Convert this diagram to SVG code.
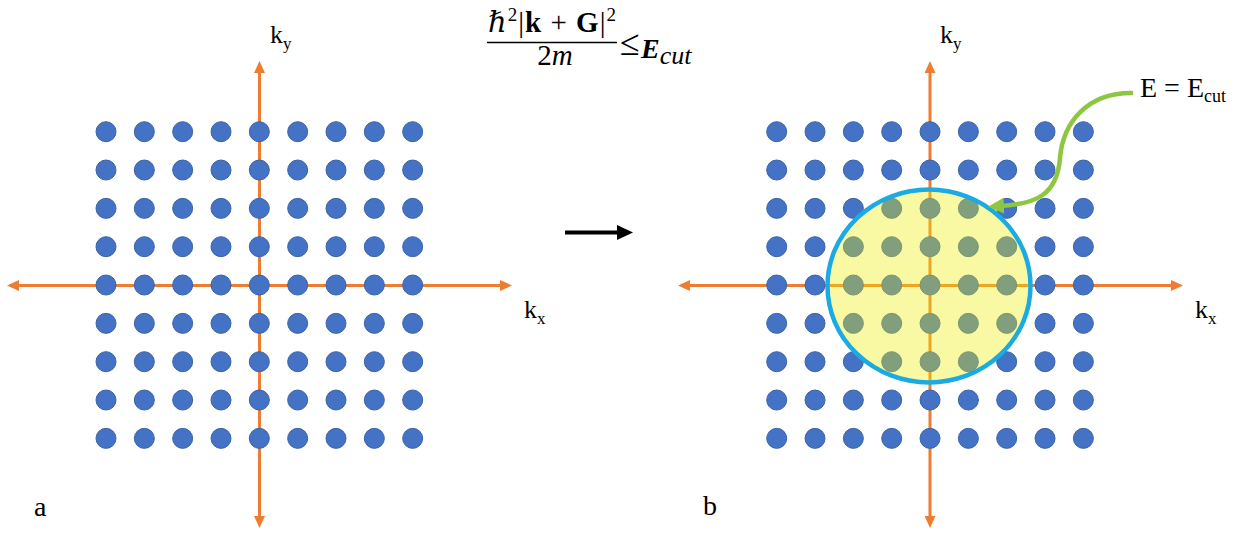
<svg xmlns="http://www.w3.org/2000/svg" xmlns:xlink="http://www.w3.org/1999/xlink" width="1246" height="533" viewBox="0 0 1246 533">
<style>
.axis{stroke:#ED7D31;stroke-width:3;fill:none;marker-start:url(#oh);marker-end:url(#oh)}
text{fill:#000}
</style>
<defs>
<marker id="oh" markerUnits="userSpaceOnUse" markerWidth="12" markerHeight="11" refX="8" refY="5.5" orient="auto-start-reverse" viewBox="0 0 12 11">
<path d="M0,0 L12,5.5 L0,11 z" fill="#ED7D31"/>
</marker>
<marker id="gh" markerUnits="userSpaceOnUse" markerWidth="16" markerHeight="16" refX="4" refY="8" orient="auto" viewBox="0 0 16 16">
<path d="M0,0 L16,8 L0,16 z" fill="#8DC63F"/>
</marker>
<circle id="d" r="10" fill="#4472C4" stroke="#3A62A8" stroke-width="1"/>
<g id="row">
<use xlink:href="#d" x="0"/><use xlink:href="#d" x="38.33"/><use xlink:href="#d" x="76.67"/><use xlink:href="#d" x="115"/><use xlink:href="#d" x="153.33"/><use xlink:href="#d" x="191.67"/><use xlink:href="#d" x="230"/><use xlink:href="#d" x="268.33"/><use xlink:href="#d" x="306.67"/>
</g>
<g id="grid">
<use xlink:href="#row" y="0"/><use xlink:href="#row" y="38.33"/><use xlink:href="#row" y="76.67"/><use xlink:href="#row" y="115"/><use xlink:href="#row" y="153.33"/><use xlink:href="#row" y="191.67"/><use xlink:href="#row" y="230"/><use xlink:href="#row" y="268.33"/><use xlink:href="#row" y="306.67"/>
</g>
</defs>
<rect width="1246" height="533" fill="#fff"/>

<g id="connectors">
<line class="axis" x1="259.5" y1="65" x2="259.5" y2="524"/>
<line class="axis" x1="11" y1="285.5" x2="508" y2="285.5"/>
<line class="axis" x1="930" y1="65" x2="930" y2="524"/>
<line class="axis" x1="682" y1="285.5" x2="1179" y2="285.5"/>
<line x1="565" y1="232.5" x2="620" y2="232.5" stroke="#000" stroke-width="4"/>
<path d="M617,225 L633,232.5 L617,240 z" fill="#000"/>
</g>

<g id="lattice-a">
<use xlink:href="#grid" x="106" y="131.7"/>
</g>
<g id="lattice-b">
<use xlink:href="#grid" x="776.7" y="131.7"/>
</g>

<g id="cutoff-sphere">
<ellipse cx="929" cy="286" rx="101.5" ry="96.5" fill="#EEEE00" fill-opacity="0.36" stroke="#1AABE2" stroke-width="4.5"/>
</g>

<g id="ecut-pointer">
<path d="M1133,93 C1088,92 1063,122 1060,158 C1057,196 1035,204 1000,206" fill="none" stroke="#8DC63F" stroke-width="4.5" marker-end="url(#gh)"/>
</g>

<g id="labels" font-family="'Liberation Serif', 'DejaVu Serif', serif">
<text x="270" y="43" font-size="26">k<tspan font-size="17" dy="6">y</tspan></text>
<text x="524" y="318" font-size="26">k<tspan font-size="17" dy="6">x</tspan></text>
<text x="940" y="43" font-size="26">k<tspan font-size="17" dy="6">y</tspan></text>
<text x="1195" y="318" font-size="26">k<tspan font-size="17" dy="6">x</tspan></text>
<text x="1140" y="97" font-size="28">E = E<tspan font-size="18" dy="5">cut</tspan></text>
<text x="34" y="516" font-size="28">a</text>
<text x="703" y="515" font-size="28">b</text>
</g>

<g id="formula" font-family="'Liberation Serif', 'DejaVu Serif', serif">
<text x="488" y="32" font-size="29" textLength="128" lengthAdjust="spacing"><tspan font-style="italic">ℏ</tspan><tspan font-size="19" dy="-11">2</tspan><tspan dy="11">|</tspan><tspan font-weight="bold">k</tspan> + <tspan font-weight="bold">G</tspan>|<tspan font-size="19" dy="-11">2</tspan></text>
<line x1="487" y1="42.5" x2="617" y2="42.5" stroke="#000" stroke-width="1.5"/>
<text x="555" y="65" font-size="29" text-anchor="middle">2<tspan font-style="italic">m</tspan></text>
<text x="620" y="55" font-size="36">≤</text>
<text x="641" y="58" font-size="28" font-weight="bold" font-style="italic">E<tspan font-weight="normal" font-size="26" dy="6">cut</tspan></text>
</g>
</svg>
